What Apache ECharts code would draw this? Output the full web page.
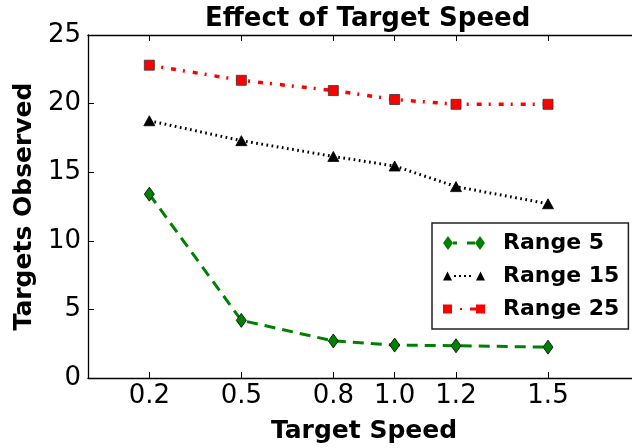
<!DOCTYPE html>
<html>
<head>
<meta charset="utf-8">
<script src="https://cdn.jsdelivr.net/npm/echarts@6/dist/echarts.min.js"></script>
<style>
html, body { margin: 0; padding: 0; background: #fff; }
#chart { width: 632px; height: 448px; }
</style>
</head>
<body>
<div id="chart"></div>
<script>
// target speeds and observed counts
var speeds = [0.2, 0.5, 0.8, 1.0, 1.2, 1.5];
var range5 = [13.4, 4.2, 2.7, 2.4, 2.35, 2.25];
var range15 = [18.75, 17.3, 16.15, 15.45, 13.95, 12.7];
var range25 = [22.8, 21.7, 20.95, 20.3, 19.95, 19.95];
var yTicks = [0, 5, 10, 15, 20, 25];

var font = 'DejaVu Sans';

function pairs(ys) {
	return speeds.map(function (x, i) { return [x, ys[i]]; });
}

// legend keys: marker, line bits, marker
var icon5 = 'path://M0 7L5 0L10 7L5 14Z M10 5.5L14 5.5L14 8.5L10 8.5Z M24 5.5L32 5.5L32 8.5L24 8.5Z M32 7L37 0L42 7L37 14Z';
var icon15 = 'path://M0 9L4.5 0L9 9Z M11 3.5L13 3.5L13 5.5L11 5.5Z M16 3.5L18 3.5L18 5.5L16 5.5Z M21 3.5L23 3.5L23 5.5L21 5.5Z M26 3.5L28 3.5L28 5.5L26 5.5Z M33 9L37.5 0L42 9Z';
var icon25 = 'path://M0 0L9 0L9 9L0 9Z M17 3.5L19 3.5L19 5.5L17 5.5Z M27 3L33 3L33 6L27 6Z M33 0L42 0L42 9L33 9Z';

var chart = echarts.init(document.getElementById('chart'));

var option = {
	animation: false,
	backgroundColor: '#fff',
	textStyle: { fontFamily: font },
	title: {
		text: 'Effect of Target Speed',
		left: 205,
		top: 6,
		padding: 0,
		textStyle: { fontFamily: font, fontSize: 26, fontWeight: 'bold', color: '#000' }
	},
	legend: {
		orient: 'vertical',
		left: 432,
		top: 223,
		padding: [9, 9, 9, 11],
		itemGap: 11,
		itemWidth: 42,
		itemHeight: 14,
		borderColor: '#222',
		borderWidth: 1.5,
		itemStyle: { borderWidth: 0 },
		textStyle: { fontFamily: font, fontSize: 22, fontWeight: 'bold', color: '#000', lineHeight: 22, padding: [0, 0, 0, 13] },
		data: [
			{ name: 'Range 5', icon: icon5 },
			{ name: 'Range 15', icon: icon15 },
			{ name: 'Range 25', icon: icon25 }
		]
	},
	grid: {
		left: 88,
		top: 35,
		width: 552,
		height: 343,
		outerBoundsMode: 'none'
	},
	xAxis: [
		{
			type: 'value',
			position: 'bottom',
			min: 0,
			max: 1.8,
			name: 'Target Speed',
			nameLocation: 'middle',
			nameGap: 41,
			nameTextStyle: { fontFamily: font, fontSize: 25, fontWeight: 'bold', color: '#000' },
			axisLine: { onZero: false, lineStyle: { color: '#000', width: 1.3 } },
			axisTick: { inside: true, length: 6, customValues: speeds, lineStyle: { color: '#000', width: 1 } },
			axisLabel: {
				customValues: speeds,
				margin: 5,
				fontFamily: font,
				fontSize: 26,
				color: '#000',
				formatter: function (v) { return v.toFixed(1); }
			},
			splitLine: { show: false }
		},
		{
			type: 'value',
			position: 'top',
			min: 0,
			max: 1.8,
			axisLine: { onZero: false, lineStyle: { color: '#000', width: 1.3 } },
			axisTick: { show: true, inside: true, length: 6, customValues: speeds, lineStyle: { color: '#000', width: 1 } },
			axisLabel: { show: false, customValues: speeds },
			splitLine: { show: false }
		}
	],
	yAxis: [
		{
			type: 'value',
			position: 'left',
			min: 0,
			max: 25,
			interval: 5,
			name: 'Targets Observed',
			nameLocation: 'middle',
			nameGap: 51,
			nameTextStyle: { fontFamily: font, fontSize: 25, fontWeight: 'bold', color: '#000' },
			axisLine: { show: true, onZero: false, lineStyle: { color: '#000', width: 1.3 } },
			axisTick: { show: true, inside: true, length: 6, customValues: yTicks, lineStyle: { color: '#000', width: 1 } },
			axisLabel: { margin: 7, fontFamily: font, fontSize: 26, color: '#000' },
			splitLine: { show: false }
		},
		{
			type: 'value',
			position: 'right',
			min: 0,
			max: 25,
			interval: 5,
			axisLine: { show: true, onZero: false, lineStyle: { color: '#000', width: 1.3 } },
			axisTick: { show: true, inside: true, length: 6 },
			axisLabel: { show: false },
			splitLine: { show: false }
		}
	],
	series: [
		{
			name: 'Range 5',
			type: 'line',
			data: pairs(range5),
			symbol: 'diamond',
			symbolSize: [10, 14],
			lineStyle: { color: '#008000', width: 3, type: [11, 7] },
			itemStyle: { color: '#008000', borderColor: '#000', borderWidth: 0.8 }
		},
		{
			name: 'Range 15',
			type: 'line',
			data: pairs(range15),
			symbol: 'triangle',
			symbolSize: [11, 10],
			lineStyle: { color: '#000', width: 3, type: [1.7, 3.5] },
			itemStyle: { color: '#000', borderColor: '#000', borderWidth: 0.8 }
		},
		{
			name: 'Range 25',
			type: 'line',
			data: pairs(range25),
			symbol: 'rect',
			symbolSize: 10,
			lineStyle: { color: '#ff0000', width: 3.5, type: [5, 7, 2, 8] },
			itemStyle: { color: '#ff0000', borderColor: '#333', borderWidth: 0.8 }
		}
	]
};

chart.setOption(option);
</script>
</body>
</html>
